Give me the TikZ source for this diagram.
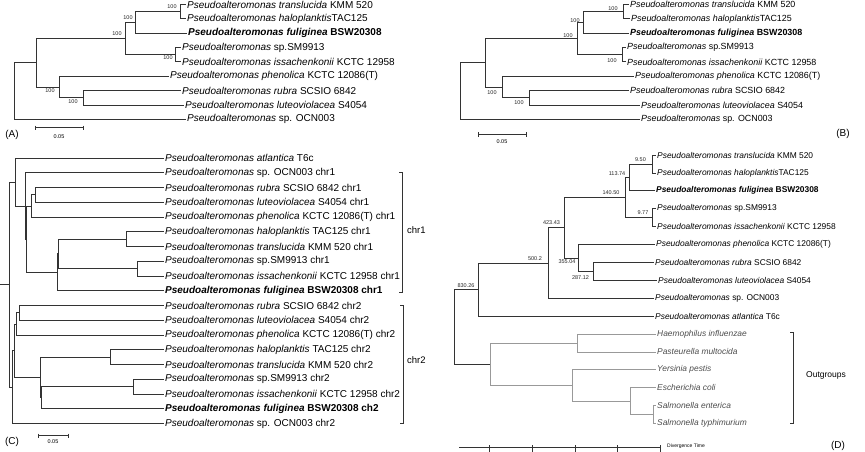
\documentclass[tikz,border=0pt]{standalone}
\usepackage{fontspec}
\setmainfont{Liberation Sans}
\newcommand{\Pa}{Pseudoalteromonas}
\begin{document}
\begin{tikzpicture}[x=1pt,y=-1pt,
  br/.style={draw=black!80, line width=0.8pt},
  og/.style={draw=black!40, line width=0.8pt},
  lfA/.style={anchor=west, inner sep=1pt, font=\fontsize{10}{12}\selectfont},
  lfB/.style={anchor=west, inner sep=1pt, font=\fontsize{8.9}{11}\selectfont},
  lfC/.style={anchor=west, inner sep=1pt, font=\fontsize{10}{12}\selectfont},
  lfD/.style={anchor=west, inner sep=1pt, font=\fontsize{8.4}{10}\selectfont},
  lfO/.style={lfD, text=black!70},
  bs/.style={font=\fontsize{5.5}{6}\selectfont, inner sep=0, text=black!85},
  sc/.style={font=\fontsize{5.5}{6}\selectfont, inner sep=0},
  panlab/.style={font=\fontsize{10}{12}\selectfont, inner sep=0},
  grp/.style={anchor=west, inner sep=0, font=\fontsize{9.5}{11}\selectfont}]
\useasboundingbox (0,0) rectangle (865,452);

% ================= Panel A =================
\coordinate (pA1) at (180,11.68);
\coordinate (pA2) at (135,22.44);
\coordinate (pA3) at (175,54.73);
\coordinate (pA4) at (125,38.58);
\coordinate (pA5) at (83,97.78);
\coordinate (pA6) at (59,87.01);
\coordinate (pA7) at (36,62.8);
\coordinate (rA) at (14,91.05);
\node[lfA] (A1) at (186,4.5) {\textit{\Pa\ translucida} KMM 520};
\node[lfA] (A2) at (186,18.85) {\textit{\Pa\ haloplanktis}TAC125};
\node[lfA] (A3) at (187,33.2) {\textbf{\textit{\Pa\ fuliginea} BSW20308}};
\node[lfA] (A4) at (181,47.55) {\textit{\Pa} sp.SM9913};
\node[lfA] (A5) at (181,61.9) {\textit{\Pa\ issachenkonii} KCTC 12958};
\node[lfA] (A6) at (169,76.25) {\textit{\Pa\ phenolica} KCTC 12086(T)};
\node[lfA] (A7) at (181,90.6) {\textit{\Pa\ rubra} SCSIO 6842};
\node[lfA] (A8) at (184,104.95) {\textit{\Pa\ luteoviolacea} S4054};
\node[lfA] (A9) at (186,119.3) {\textit{\Pa} sp. OCN003};
\draw[br] (pA1) |- (A1.west) (pA1) |- (A2.west)
  (pA2) |- (pA1) (pA2) |- (A3.west)
  (pA3) |- (A4.west) (pA3) |- (A5.west)
  (pA4) |- (pA2) (pA4) |- (pA3)
  (pA5) |- (A7.west) (pA5) |- (A8.west)
  (pA6) |- (A6.west) (pA6) |- (pA5)
  (pA7) |- (pA4) (pA7) |- (pA6)
  (rA) |- (pA7) (rA) |- (A9.west);
\node[bs] (bA1) at (172,7) {100};
\node[bs] (bA2) at (128,18) {100};
\node[bs] (bA3) at (117,34) {100};
\node[bs] (bA4) at (168,58) {100};
\node[bs] (bA5) at (50,91) {100};
\node[bs] (bA6) at (73,102) {100};
\draw[br] (35,125.5) -- (35,130) (35,127.7) -- (83,127.7) (83,125.5) -- (83,130);
\node[sc] (sA) at (59,136.5) {0.05};
\node[panlab] (labA) at (12,135) {(A)};

% ================= Panel B =================
\coordinate (pB1) at (623,11.68);
\coordinate (pB2) at (583,22.44);
\coordinate (pB3) at (622,54.73);
\coordinate (pB4) at (577,38.58);
\coordinate (pB5) at (529,97.78);
\coordinate (pB6) at (502,87.01);
\coordinate (pB7) at (485,62.8);
\coordinate (rB) at (460,91.05);
\node[lfB] (B1) at (629,4.5) {\textit{\Pa\ translucida} KMM 520};
\node[lfB] (B2) at (630,18.85) {\textit{\Pa\ haloplanktis}TAC125};
\node[lfB] (B3) at (629,33.2) {\textbf{\textit{\Pa\ fuliginea} BSW20308}};
\node[lfB] (B4) at (626,47.55) {\textit{\Pa} sp.SM9913};
\node[lfB] (B5) at (626,61.9) {\textit{\Pa\ issachenkonii} KCTC 12958};
\node[lfB] (B6) at (634,76.25) {\textit{\Pa\ phenolica} KCTC 12086(T)};
\node[lfB] (B7) at (629,90.6) {\textit{\Pa\ rubra} SCSIO 6842};
\node[lfB] (B8) at (640,104.95) {\textit{\Pa\ luteoviolacea} S4054};
\node[lfB] (B9) at (640,119.3) {\textit{\Pa} sp. OCN003};
\draw[br] (pB1) |- (B1.west) (pB1) |- (B2.west)
  (pB2) |- (pB1) (pB2) |- (B3.west)
  (pB3) |- (B4.west) (pB3) |- (B5.west)
  (pB4) |- (pB2) (pB4) |- (pB3)
  (pB5) |- (B7.west) (pB5) |- (B8.west)
  (pB6) |- (B6.west) (pB6) |- (pB5)
  (pB7) |- (pB4) (pB7) |- (pB6)
  (rB) |- (pB7) (rB) |- (B9.west);
\node[bs] (bB1) at (613,9) {100};
\node[bs] (bB2) at (575,21) {100};
\node[bs] (bB3) at (568,36) {100};
\node[bs] (bB4) at (612,61) {100};
\node[bs] (bB5) at (492,93) {100};
\node[bs] (bB6) at (519,103) {100};
\draw[br] (478,132) -- (478,136.5) (478,134) -- (526,134) (526,132) -- (526,136.5);
\node[sc] (sB) at (502,142) {0.05};
\node[panlab] (labB) at (843,134) {(B)};

% ================= Panel C =================
\coordinate (a1) at (35,194.875);
\coordinate (a2) at (31,205.94);
\coordinate (b1) at (126,239.125);
\coordinate (b2) at (137,268.625);
\coordinate (b3) at (58,253.875);
\coordinate (b4) at (57,272.31);
\coordinate (a3) at (26,239.125);
\coordinate (a4) at (25,205.94);
\coordinate (a5) at (15,181.97);
\coordinate (c1) at (19,312.875);
\coordinate (c2) at (16,323.94);
\coordinate (e1) at (110,357.125);
\coordinate (e2) at (133,386.625);
\coordinate (e3) at (41,397.69);
\coordinate (dd) at (40,377.41);
\coordinate (c3) at (14,350.67);
\coordinate (c4) at (12.7,387.08);
\coordinate (rC) at (9,284.5);
\coordinate (stC) at (0,284.5);
\node[lfC] (C0) at (164,158) {\textit{\Pa\ atlantica} T6c};
\node[lfC] (C1) at (164,172.75) {\textit{\Pa} sp. OCN003 chr1};
\node[lfC] (C2) at (164,187.5) {\textit{\Pa\ rubra} SCSIO 6842 chr1};
\node[lfC] (C3) at (164,202.25) {\textit{\Pa\ luteoviolacea} S4054 chr1};
\node[lfC] (C4) at (164,217) {\textit{\Pa\ phenolica} KCTC 12086(T) chr1};
\node[lfC] (C5) at (164,231.75) {\textit{\Pa\ haloplanktis} TAC125 chr1};
\node[lfC] (C6) at (164,246.5) {\textit{\Pa\ translucida} KMM 520 chr1};
\node[lfC] (C7) at (164,261.25) {\textit{\Pa} sp.SM9913 chr1};
\node[lfC] (C8) at (164,276) {\textit{\Pa\ issachenkonii} KCTC 12958 chr1};
\node[lfC] (C9) at (164,290.75) {\textbf{\textit{\Pa\ fuliginea} BSW20308 chr1}};
\node[lfC] (C10) at (164,305.5) {\textit{\Pa\ rubra} SCSIO 6842 chr2};
\node[lfC] (C11) at (164,320.25) {\textit{\Pa\ luteoviolacea} S4054 chr2};
\node[lfC] (C12) at (164,335) {\textit{\Pa\ phenolica} KCTC 12086(T) chr2};
\node[lfC] (C13) at (164,349.75) {\textit{\Pa\ haloplanktis} TAC125 chr2};
\node[lfC] (C14) at (164,364.5) {\textit{\Pa\ translucida} KMM 520 chr2};
\node[lfC] (C15) at (164,379.25) {\textit{\Pa} sp.SM9913 chr2};
\node[lfC] (C16) at (164,394) {\textit{\Pa\ issachenkonii} KCTC 12958 chr2};
\node[lfC] (C17) at (164,408.75) {\textbf{\textit{\Pa\ fuliginea} BSW20308 ch2}};
\node[lfC] (C18) at (164,423.5) {\textit{\Pa} sp. OCN003 chr2};
\draw[br] (a1) |- (C2.west) (a1) |- (C3.west)
  (a2) |- (a1) (a2) |- (C4.west)
  (b1) |- (C5.west) (b1) |- (C6.west)
  (b2) |- (C7.west) (b2) |- (C8.west)
  (b3) |- (b1) (b3) |- (b2)
  (b4) |- (b3) (b4) |- (C9.west)
  (a3) |- (a2) (a3) |- (b4)
  (a4) |- (C1.west) (a4) |- (a3)
  (a5) |- (C0.west) (a5) |- (a4)
  (c1) |- (C10.west) (c1) |- (C11.west)
  (c2) |- (c1) (c2) |- (C12.west)
  (e1) |- (C13.west) (e1) |- (C14.west)
  (e2) |- (C15.west) (e2) |- (C16.west)
  (e3) |- (e2) (e3) |- (C17.west)
  (dd) |- (e1) (dd) |- (e3)
  (c3) |- (c2) (c3) |- (dd)
  (c4) |- (c3) (c4) |- (C18.west)
  (rC) |- (a5) (rC) |- (c4) (stC) -- (rC);
\draw[br] (399,172) -- (402,172) -- (402,292) -- (399,292);
\draw[br] (400,305) -- (403,305) -- (403,423) -- (400,423);
\node[grp] (chr1) at (407,230) {chr1};
\node[grp] (chr2) at (407,360) {chr2};
\draw[br] (38,433.5) -- (38,438) (38,435.5) -- (68,435.5) (68,433.5) -- (68,438);
\node[sc] (sC) at (53,442) {0.05};
\node[panlab] (labC) at (12,442) {(C)};

% ================= Panel D =================
\coordinate (f1) at (652,163.95);
\coordinate (f2) at (629,177.4);
\coordinate (f3) at (652,217.65);
\coordinate (f4) at (625,197.5);
\coordinate (g1) at (593,271.35);
\coordinate (f5) at (578,257.9);
\coordinate (f6) at (564,227.7);
\coordinate (f7) at (548,262.95);
\coordinate (f8) at (478,289.5);
\coordinate (h1) at (577,342.95);
\coordinate (h2) at (653,414.55);
\coordinate (h3) at (630,401.1);
\coordinate (h4) at (572,385.5);
\coordinate (h5) at (490,364.2);
\coordinate (rD) at (454,326.9);
\node[lfD] (D0) at (656,155) {\textit{\Pa\ translucida} KMM 520};
\node[lfD] (D1) at (656,172.9) {\textit{\Pa\ haloplanktis}TAC125};
\node[lfD] (D2) at (655,190.8) {\textbf{\textit{\Pa\ fuliginea} BSW20308}};
\node[lfD] (D3) at (656,208.7) {\textit{\Pa} sp.SM9913};
\node[lfD] (D4) at (656,226.6) {\textit{\Pa\ issachenkonii} KCTC 12958};
\node[lfD] (D5) at (655,244.5) {\textit{\Pa\ phenolica} KCTC 12086(T)};
\node[lfD] (D6) at (654,262.4) {\textit{\Pa\ rubra} SCSIO 6842};
\node[lfD] (D7) at (657,280.3) {\textit{\Pa\ luteoviolacea} S4054};
\node[lfD] (D8) at (654,298.2) {\textit{\Pa} sp. OCN003};
\node[lfD] (D9) at (654,316.1) {\textit{\Pa\ atlantica} T6c};
\node[lfO] (D10) at (656,334) {\textit{Haemophilus influenzae}};
\node[lfO] (D11) at (656,351.9) {\textit{Pasteurella multocida}};
\node[lfO] (D12) at (656,369.8) {\textit{Yersinia pestis}};
\node[lfO] (D13) at (656,387.7) {\textit{Escherichia coli}};
\node[lfO] (D14) at (656,405.6) {\textit{Salmonella enterica}};
\node[lfO] (D15) at (656,423.5) {\textit{Salmonella typhimurium}};
\draw[br] (f1) |- (D0.west) (f1) |- (D1.west)
  (f2) |- (f1) (f2) |- (D2.west)
  (f3) |- (D3.west) (f3) |- (D4.west)
  (f4) |- (f2) (f4) |- (f3)
  (g1) |- (D6.west) (g1) |- (D7.west)
  (f5) |- (D5.west) (f5) |- (g1)
  (f6) |- (f4) (f6) |- (f5)
  (f7) |- (f6) (f7) |- (D8.west)
  (f8) |- (f7) (f8) |- (D9.west)
  (rD) |- (f8);
\draw[og] (h1) |- (D10.west) (h1) |- (D11.west)
  (h2) |- (D14.west) (h2) |- (D15.west)
  (h3) |- (D13.west) (h3) |- (h2)
  (h4) |- (D12.west) (h4) |- (h3)
  (h5) |- (h1) (h5) |- (h4);
\draw[br] (rD) |- (h5);
\node[bs] (nD1) at (640.5,160) {9.50};
\node[bs] (nD2) at (617,174) {113.74};
\node[bs] (nD3) at (611,193) {140.50};
\node[bs] (nD4) at (643,213) {9.77};
\node[bs] (nD5) at (551.5,223) {423.43};
\node[bs] (nD6) at (535,259) {500.2};
\node[bs] (nD7) at (567,262) {355.04};
\node[bs] (nD8) at (580.5,278) {287.12};
\node[bs] (nD9) at (466,285.7) {830.26};
\draw[br] (790,332) -- (793,332) -- (793,423) -- (790,423);
\node[grp, font=\fontsize{8.5}{10}\selectfont] (outg) at (806,375) {Outgroups};
\draw[br] (459,447) -- (660,447);
\foreach \x in {489,532,575,617,660} \draw[br] (\x,445) -- (\x,452);
\node[anchor=west, inner sep=0, font=\fontsize{5}{6}\selectfont] (dt) at (667,446) {Divergence Time};
\node[panlab] (labD) at (838,446) {(D)};
\end{tikzpicture}
\end{document}
